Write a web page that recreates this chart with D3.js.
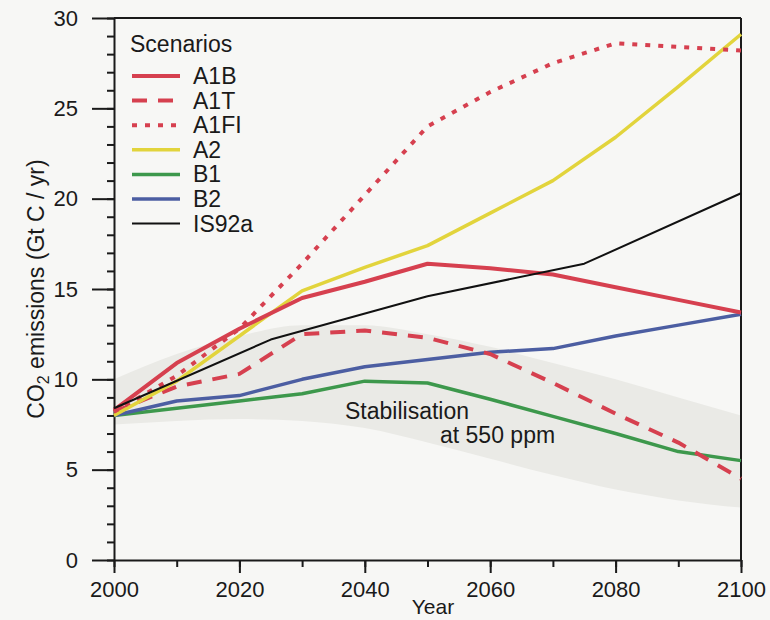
<!DOCTYPE html>
<html>
<head>
<meta charset="utf-8">
<script src="https://cdn.jsdelivr.net/npm/d3@7"></script>
<style>
  body { margin: 0; background: #f7f7f5; }
  svg text { font-family: "Liberation Sans", Arial, sans-serif; fill: #1a1a1a; }
</style>
</head>
<body>
<svg id="chart" width="770" height="620"></svg>
<script>
// CO2 emission scenarios (Gt C / yr)
const years = [2000, 2010, 2020, 2030, 2040, 2050, 2060, 2070, 2080, 2090, 2100];

const a1b  = [8.3, 10.9, 12.8, 14.5, 15.4, 16.4, 16.15, 15.8, 15.1, 14.4, 13.7];
const a1t  = [8.2, 9.6, 10.3, 12.5, 12.7, 12.3, 11.4, 9.8, 8.1, 6.5, 4.5];
const a1fi = [8.2, 10.2, 12.8, 16.4, 20.2, 24.0, 25.9, 27.5, 28.6, 28.4, 28.2];
const a2   = [8.0, 9.9, 12.4, 14.9, 16.2, 17.4, 19.2, 21.0, 23.4, 26.2, 29.1];
const b1   = [8.0, 8.4, 8.8, 9.2, 9.9, 9.8, 8.9, 7.95, 7.0, 6.0, 5.5];
const b2   = [8.0, 8.8, 9.1, 10.0, 10.7, 11.1, 11.5, 11.7, 12.4, 13.0, 13.6];

const is92aYears = [2000, 2025, 2050, 2075, 2100];
const is92a      = [8.4, 12.2, 14.6, 16.4, 20.3];

// stabilisation at 550 ppm band
const bandUpper = [10.0, 11.4, 12.4, 13.0, 13.0, 12.5, 11.8, 10.9, 10.0, 9.0, 8.0];
const bandLower = [7.5, 7.7, 7.8, 7.7, 7.3, 6.5, 5.6, 4.7, 3.9, 3.3, 2.9];

const yMajor = [0, 5, 10, 15, 20, 25, 30];
const xMajor = [2000, 2020, 2040, 2060, 2080, 2100];

const svg = d3.select("#chart");
const margin = {top: 18, right: 29, bottom: 60, left: 114};
const width = 770, height = 620;

const x = d3.scaleLinear().domain([2000, 2100]).range([margin.left, width - margin.right]);
const y = d3.scaleLinear().domain([0, 30]).range([height - margin.bottom, margin.top]);

// shaded band
const bandData = years.map((yr, i) => ({yr, lo: bandLower[i], hi: bandUpper[i]}));
svg.append("path")
    .datum(bandData)
    .attr("fill", "#eaeae6")
    .attr("d", d3.area()
        .x(d => x(d.yr))
        .y0(d => y(d.lo))
        .y1(d => y(d.hi))
        .curve(d3.curveMonotoneX));

svg.append("text")
    .attr("x", 345).attr("y", 419)
    .style("font-size", "23px")
    .text("Stabilisation");
svg.append("text")
    .attr("x", 440).attr("y", 443)
    .style("font-size", "23px")
    .text("at 550 ppm");

// axes
const fontSize = "22px";

// minor ticks first
svg.append("g")
    .attr("transform", `translate(${margin.left},0)`)
    .call(d3.axisLeft(y).tickValues(d3.range(0, 31, 1)).tickSize(7).tickFormat(""))
    .call(g => g.select(".domain").remove());
svg.append("g")
    .attr("transform", `translate(0,${y(0)})`)
    .call(d3.axisBottom(x).tickValues(d3.range(2000, 2101, 10)).tickSize(7).tickFormat(""))
    .call(g => g.select(".domain").remove());

const yAxis = svg.append("g")
    .attr("transform", `translate(${margin.left},0)`)
    .call(d3.axisLeft(y).tickValues(yMajor).tickSize(22).tickPadding(14).tickSizeOuter(0));
const xAxis = svg.append("g")
    .attr("transform", `translate(0,${y(0)})`)
    .call(d3.axisBottom(x).tickValues(xMajor).tickSize(13).tickPadding(8)
        .tickSizeOuter(0).tickFormat(d3.format("d")));

[yAxis, xAxis].forEach(g => {
    g.selectAll("text").style("font-size", fontSize).attr("fill", "#1a1a1a");
    g.selectAll("line, path").attr("stroke", "#1a1a1a").attr("stroke-width", 2);
});
svg.selectAll("g .tick line").attr("stroke", "#1a1a1a").attr("stroke-width", 2);

// top and right frame
svg.append("line")
    .attr("x1", x(2000)).attr("x2", x(2100))
    .attr("y1", y(30)).attr("y2", y(30))
    .attr("stroke", "#1a1a1a").attr("stroke-width", 2);
svg.append("line")
    .attr("x1", x(2100)).attr("x2", x(2100))
    .attr("y1", y(30)).attr("y2", y(0))
    .attr("stroke", "#1a1a1a").attr("stroke-width", 2);

// axis titles
svg.append("text")
    .attr("x", 433).attr("y", 614)
    .attr("text-anchor", "middle")
    .style("font-size", "21px")
    .text("Year");

const yTitle = svg.append("text")
    .attr("transform", `translate(44,${y(15)}) rotate(-90)`)
    .attr("text-anchor", "middle")
    .style("font-size", "23px");
yTitle.append("tspan").text("CO");
yTitle.append("tspan").attr("baseline-shift", "-30%").style("font-size", "16px").text("2");
yTitle.append("tspan").text(" emissions (Gt C / yr)");

// series
const series = [
    {name: "A1B",   xs: years,      values: a1b,  color: "#d6404f", width: 4,   dash: null},
    {name: "A1T",   xs: years,      values: a1t,  color: "#d6404f", width: 4,   dash: "15,11"},
    {name: "A1FI",  xs: years,      values: a1fi, color: "#d6404f", width: 4,   dash: "5,8"},
    {name: "A2",    xs: years,      values: a2,   color: "#e2d43c", width: 3.5, dash: null},
    {name: "B1",    xs: years,      values: b1,   color: "#3d984c", width: 3.5, dash: null},
    {name: "B2",    xs: years,      values: b2,   color: "#4c5ea2", width: 3.5, dash: null},
    {name: "IS92a", xs: is92aYears, values: is92a, color: "#111111", width: 2, dash: null}
];

const line = d3.line()
    .x(d => x(d[0]))
    .y(d => y(d[1]));

// draw back-to-front so the black reference line sits on top
const drawOrder = ["B1", "B2", "A1T", "A2", "A1B", "A1FI", "IS92a"];
drawOrder.forEach(n => {
    const s = series.find(d => d.name === n);
    svg.append("path")
        .datum(s.xs.map((yr, i) => [yr, s.values[i]]))
        .attr("fill", "none")
        .attr("stroke", s.color)
        .attr("stroke-width", s.width)
        .attr("stroke-dasharray", s.dash)
        .attr("stroke-linejoin", "round")
        .attr("d", line);
});

// legend
const legend = svg.append("g").attr("transform", "translate(130,0)");
legend.append("text")
    .attr("x", 0).attr("y", 52)
    .style("font-size", "23px")
    .text("Scenarios");

const item = legend.selectAll("g.item")
    .data(series)
    .join("g")
    .attr("class", "item")
    .attr("transform", (d, i) => `translate(0,${76 + i * 24.6})`);

item.append("line")
    .attr("x1", 2).attr("x2", 50)
    .attr("stroke", d => d.color)
    .attr("stroke-width", d => d.width)
    .attr("stroke-dasharray", d => d.dash);

item.append("text")
    .attr("x", 63).attr("y", 8)
    .style("font-size", "23px")
    .text(d => d.name);
</script>
</body>
</html>
